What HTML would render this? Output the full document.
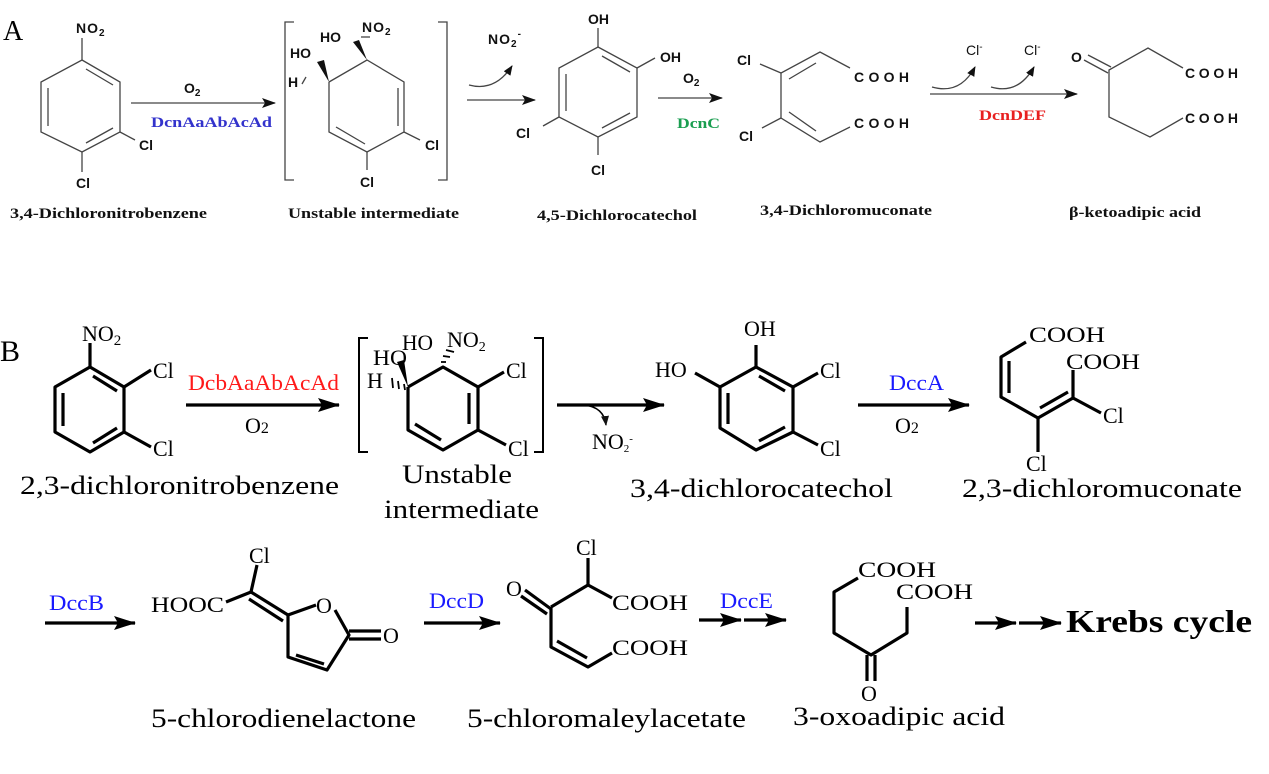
<!DOCTYPE html>
<html><head><meta charset="utf-8"><style>
html,body{margin:0;padding:0;background:#fff;}
svg{display:block;}
.a{font-family:"Liberation Sans",sans-serif;font-weight:bold;font-size:14px;fill:#111;}
.an{font-family:"Liberation Serif",serif;font-weight:bold;font-size:15px;fill:#111;}
.b{font-family:"Liberation Serif",serif;font-size:22px;fill:#000;}
.bn{font-family:"Liberation Serif",serif;font-size:26px;fill:#000;}
.la{stroke:#444;stroke-width:1.3;fill:none;}
.lb{stroke:#000;stroke-width:3.2;fill:none;stroke-linejoin:round;}
.red{fill:#ff1a1a !important;}
.blue{fill:#1a1aff !important;}
</style></head><body>
<svg width="1269" height="774" viewBox="0 0 1269 774" xmlns="http://www.w3.org/2000/svg">
<defs>
<marker id="ha" markerWidth="14" markerHeight="10" refX="13" refY="5" orient="auto" markerUnits="userSpaceOnUse"><path d="M0,0 L14,5 L0,10 L3,5 Z" fill="#111"/></marker>
<marker id="hb" markerWidth="22" markerHeight="14" refX="21" refY="7" orient="auto" markerUnits="userSpaceOnUse"><path d="M0,0 L22,7 L0,14 L4,7 Z" fill="#000"/></marker>
<marker id="hs" markerWidth="10" markerHeight="8" refX="9" refY="4" orient="auto" markerUnits="userSpaceOnUse"><path d="M0,0 L10,4 L0,8 Z" fill="#111"/></marker>
</defs>

<!-- ===== A ===== -->
<text x="3" y="40" font-family="Liberation Serif,serif" font-size="28">A</text>
<polygon class="la" points="82,60 120,82 120,132 82,152 41,132 41,82"/>
<line class="la" x1="48" y1="88" x2="48" y2="126"/>
<line class="la" x1="86" y1="69" x2="113" y2="85"/>
<line class="la" x1="86" y1="143" x2="113" y2="128"/>
<line class="la" x1="82" y1="38" x2="82" y2="60"/>
<line class="la" x1="120" y1="132" x2="135" y2="140"/>
<line class="la" x1="82" y1="152" x2="82" y2="172"/>
<text class="a" x="76" y="33" letter-spacing="1">NO<tspan font-size="10" dy="3">2</tspan></text>
<text class="a" x="139" y="150">Cl</text>
<text class="a" x="76" y="188">Cl</text>
<text class="an" x="10" y="218" textLength="197" lengthAdjust="spacingAndGlyphs">3,4-Dichloronitrobenzene</text>
<line class="la" x1="131" y1="103" x2="275" y2="103" stroke="#111" marker-end="url(#ha)"/>
<text class="a" x="184" y="93">O<tspan font-size="10" dy="3">2</tspan></text>
<text class="an" x="151" y="127" style="fill:#3333cc" textLength="121" lengthAdjust="spacingAndGlyphs">DcnAaAbAcAd</text>
<path class="la" d="M294,22 H285 V180 H294"/>
<path class="la" d="M438,22 H447 V180 H438"/>
<polyline class="la" points="329,82 367,60 404,82 404,132 367,152 329,132 329,82"/>
<line class="la" x1="398" y1="88" x2="398" y2="126"/>
<line class="la" x1="336" y1="127" x2="365" y2="144"/>
<polygon points="329,82 317,62 324,60" fill="#111"/>
<polygon points="367,60 353,42 359,40" fill="#111"/>
<line class="la" x1="302" y1="84" x2="306" y2="77"/>
<line class="la" x1="404" y1="132" x2="420" y2="140"/>
<line class="la" x1="367" y1="152" x2="367" y2="170"/>
<text class="a" x="290" y="58">HO</text>
<text class="a" x="288" y="87">H</text>
<text class="a" x="320" y="42">HO</text>
<text class="a" x="362" y="32" letter-spacing="1">NO<tspan font-size="10" dy="3">2</tspan></text>
<line class="la" x1="361" y1="37" x2="370" y2="37"/>
<text class="a" x="425" y="150">Cl</text>
<text class="a" x="360" y="187">Cl</text>
<text class="an" x="288" y="218" textLength="171" lengthAdjust="spacingAndGlyphs">Unstable intermediate</text>
<line class="la" x1="467" y1="100" x2="535" y2="100" stroke="#111" marker-end="url(#ha)"/>
<path class="la" d="M469,85 Q495,92 512,66" marker-end="url(#hs)"/>
<text class="a" x="488" y="44" letter-spacing="1">NO<tspan font-size="10" dy="3">2</tspan><tspan font-size="10" dy="-10">-</tspan></text>
<polygon class="la" points="598,47 637,68 637,117 598,137 559,117 559,68"/>
<line class="la" x1="566" y1="74" x2="566" y2="111"/>
<line class="la" x1="602" y1="56" x2="630" y2="72"/>
<line class="la" x1="602" y1="128" x2="630" y2="113"/>
<line class="la" x1="598" y1="28" x2="598" y2="47"/>
<line class="la" x1="637" y1="68" x2="655" y2="58"/>
<line class="la" x1="559" y1="117" x2="543" y2="126"/>
<line class="la" x1="598" y1="137" x2="598" y2="155"/>
<text class="a" x="588" y="24">OH</text>
<text class="a" x="660" y="62">OH</text>
<text class="a" x="516" y="138">Cl</text>
<text class="a" x="591" y="175">Cl</text>
<text class="an" x="537" y="220" textLength="160" lengthAdjust="spacingAndGlyphs">4,5-Dichlorocatechol</text>
<line class="la" x1="658" y1="98" x2="722" y2="98" stroke="#111" marker-end="url(#ha)"/>
<text class="a" x="683" y="83">O<tspan font-size="10" dy="3">2</tspan></text>
<text class="an" x="677" y="128" style="fill:#1a9e50" textLength="43" lengthAdjust="spacingAndGlyphs">DcnC</text>
<polyline class="la" points="850,68 820,52 781,73 781,118 820,142 850,127"/>
<line class="la" x1="789" y1="79" x2="816" y2="63"/>
<line class="la" x1="789" y1="112" x2="816" y2="131"/>
<line class="la" x1="760" y1="64" x2="781" y2="73"/>
<line class="la" x1="762" y1="128" x2="781" y2="118"/>
<text class="a" x="737" y="65">Cl</text>
<text class="a" x="739" y="141">Cl</text>
<text class="a" x="854" y="82" textLength="55" lengthAdjust="spacing">COOH</text>
<text class="a" x="854" y="128" textLength="55" lengthAdjust="spacing">COOH</text>
<text class="an" x="760" y="215" textLength="172" lengthAdjust="spacingAndGlyphs">3,4-Dichloromuconate</text>
<line class="la" x1="930" y1="94" x2="1077" y2="94" stroke="#111" marker-end="url(#ha)"/>
<path class="la" d="M932,87 Q960,95 975,67" marker-end="url(#hs)"/>
<path class="la" d="M991,87 Q1018,95 1034,67" marker-end="url(#hs)"/>
<text class="a" x="966" y="55" style="font-weight:normal">Cl<tspan font-size="10" dy="-5">-</tspan></text>
<text class="a" x="1024" y="55" style="font-weight:normal">Cl<tspan font-size="10" dy="-5">-</tspan></text>
<text class="an" x="979" y="120" style="fill:#e82020" textLength="67" lengthAdjust="spacingAndGlyphs">DcnDEF</text>
<line class="la" x1="1084" y1="60" x2="1108" y2="73"/>
<line class="la" x1="1088" y1="55" x2="1111" y2="67"/>
<polyline class="la" points="1183,68 1148,48 1109,70 1109,117 1150,137 1183,118"/>
<text class="a" x="1071" y="62">O</text>
<text class="a" x="1185" y="78" textLength="53" lengthAdjust="spacing">COOH</text>
<text class="a" x="1185" y="123" textLength="53" lengthAdjust="spacing">COOH</text>
<text class="an" x="1069" y="217" textLength="132" lengthAdjust="spacingAndGlyphs">β-ketoadipic acid</text>

<!-- ===== B ===== -->
<text x="0" y="361" font-family="Liberation Serif,serif" font-size="30">B</text>
<polygon class="lb" points="90,367 124,387 124,432 90,452 55,432 55,387"/>
<line class="lb" x1="63" y1="393" x2="63" y2="426"/>
<line class="lb" x1="93" y1="376" x2="117" y2="391"/>
<line class="lb" x1="93" y1="443" x2="117" y2="428"/>
<line class="lb" x1="90" y1="343" x2="90" y2="367"/>
<line class="lb" x1="124" y1="387" x2="151" y2="370"/>
<line class="lb" x1="124" y1="432" x2="151" y2="447"/>
<text class="b" x="82" y="341">NO<tspan font-size="15" dy="4">2</tspan></text>
<text class="b" x="153" y="378">Cl</text>
<text class="b" x="153" y="456">Cl</text>
<text class="bn" x="20" y="494" textLength="319" lengthAdjust="spacingAndGlyphs">2,3-dichloronitrobenzene</text>
<line class="lb" x1="186" y1="405" x2="339" y2="405" marker-end="url(#hb)"/>
<text class="b red" x="188" y="390" textLength="151" lengthAdjust="spacingAndGlyphs">DcbAaAbAcAd</text>
<text class="b" x="245" y="433">O<tspan font-size="16">2</tspan></text>
<path stroke="#000" stroke-width="2" fill="none" d="M368,338 H359 V452 H368"/>
<path stroke="#000" stroke-width="2" fill="none" d="M534,338 H543 V452 H534"/>
<polyline class="lb" points="408,387 443,367 478,387 478,430 443,450 408,430 408,387"/>
<line class="lb" x1="469" y1="393" x2="469" y2="424"/>
<line class="lb" x1="415" y1="424" x2="441" y2="440"/>
<line class="lb" x1="478" y1="387" x2="504" y2="372"/>
<line class="lb" x1="478" y1="430" x2="506" y2="445"/>
<polygon points="408,387 397,362 404,360" fill="#000"/>
<g stroke="#000" stroke-width="1.8"><line x1="404" y1="384" x2="405" y2="390"/><line x1="398" y1="381" x2="399" y2="389"/><line x1="392" y1="378" x2="393" y2="388"/>
<line x1="446" y1="362" x2="441" y2="362"/><line x1="450" y1="357" x2="443" y2="356"/><line x1="454" y1="352" x2="446" y2="350"/></g>
<text class="b" x="373" y="365" font-size="20" textLength="34" lengthAdjust="spacingAndGlyphs">HO</text>
<text class="b" x="367" y="388" font-size="20">H</text>
<text class="b" x="402" y="350" font-size="20" textLength="31" lengthAdjust="spacingAndGlyphs">HO</text>
<text class="b" x="447" y="347" font-size="20">NO<tspan font-size="14" dy="4">2</tspan></text>
<text class="b" x="506" y="378">Cl</text>
<text class="b" x="508" y="456">Cl</text>
<text class="bn" x="402" y="483" textLength="110" lengthAdjust="spacingAndGlyphs">Unstable</text>
<text class="bn" x="384" y="518" textLength="155" lengthAdjust="spacingAndGlyphs">intermediate</text>
<line class="lb" x1="557" y1="405" x2="664" y2="405" marker-end="url(#hb)"/>
<path stroke="#000" stroke-width="1.5" fill="none" d="M584,405 Q604,407 606,425" marker-end="url(#hs)"/>
<text class="b" x="592" y="449" font-size="16">NO<tspan font-size="11" dy="3">2</tspan><tspan font-size="11" dy="-10">-</tspan></text>
<polygon class="lb" points="756,367 793,387 793,432 756,450 720,428 720,387"/>
<line class="lb" x1="728" y1="393" x2="728" y2="424"/>
<line class="lb" x1="759" y1="376" x2="785" y2="391"/>
<line class="lb" x1="759" y1="441" x2="785" y2="427"/>
<line class="lb" x1="756" y1="345" x2="756" y2="367"/>
<line class="lb" x1="720" y1="387" x2="695" y2="373"/>
<line class="lb" x1="793" y1="387" x2="818" y2="373"/>
<line class="lb" x1="793" y1="432" x2="818" y2="445"/>
<text class="b" x="744" y="336">OH</text>
<text class="b" x="655" y="377">HO</text>
<text class="b" x="820" y="378">Cl</text>
<text class="b" x="820" y="456">Cl</text>
<text class="bn" x="630" y="497" textLength="263" lengthAdjust="spacingAndGlyphs">3,4-dichlorocatechol</text>
<line class="lb" x1="858" y1="405" x2="969" y2="405" marker-end="url(#hb)"/>
<text class="b blue" x="889" y="390" textLength="55" lengthAdjust="spacingAndGlyphs">DccA</text>
<text class="b" x="895" y="433">O<tspan font-size="16">2</tspan></text>
<polyline class="lb" points="1026,342 1001,357 1001,397 1038,418 1073,398 1073,370"/>
<line class="lb" x1="1009" y1="361" x2="1009" y2="393"/>
<line class="lb" x1="1040" y1="408" x2="1068" y2="392"/>
<line class="lb" x1="1073" y1="398" x2="1101" y2="413"/>
<line class="lb" x1="1038" y1="418" x2="1038" y2="452"/>
<text class="b" x="1029" y="342" textLength="76" lengthAdjust="spacingAndGlyphs">COOH</text>
<text class="b" x="1066" y="369" textLength="74" lengthAdjust="spacingAndGlyphs">COOH</text>
<text class="b" x="1103" y="423">Cl</text>
<text class="b" x="1026" y="471">Cl</text>
<text class="bn" x="962" y="497" textLength="280" lengthAdjust="spacingAndGlyphs">2,3-dichloromuconate</text>
<line class="lb" x1="45" y1="623" x2="135" y2="623" marker-end="url(#hb)"/>
<text class="b blue" x="49" y="610" textLength="55" lengthAdjust="spacingAndGlyphs">DccB</text>
<line class="lb" x1="226" y1="602" x2="251" y2="592"/>
<line class="lb" x1="251" y1="592" x2="257" y2="565"/>
<line class="lb" x1="251" y1="592" x2="288" y2="615"/>
<line class="lb" x1="249" y1="599" x2="283" y2="621"/>
<polyline class="lb" points="288,615 316,605"/>
<polyline class="lb" points="335,610 349,635 327,670 288,657 288,615"/>
<line class="lb" x1="296" y1="655" x2="324" y2="664"/>
<line class="lb" x1="349" y1="631" x2="381" y2="631"/>
<line class="lb" x1="349" y1="639" x2="381" y2="639"/>
<text class="b" x="151" y="612" textLength="73" lengthAdjust="spacingAndGlyphs">HOOC</text>
<text class="b" x="249" y="563">Cl</text>
<text class="b" x="316" y="613">O</text>
<text class="b" x="383" y="643">O</text>
<text class="bn" x="151" y="727" textLength="265" lengthAdjust="spacingAndGlyphs">5-chlorodienelactone</text>
<line class="lb" x1="424" y1="623" x2="500" y2="623" marker-end="url(#hb)"/>
<text class="b blue" x="429" y="608" textLength="55" lengthAdjust="spacingAndGlyphs">DccD</text>
<line class="lb" x1="525" y1="590" x2="551" y2="609"/>
<line class="lb" x1="521" y1="596" x2="547" y2="614"/>
<polyline class="lb" points="551,607 588,585 612,598"/>
<line class="lb" x1="588" y1="585" x2="588" y2="558"/>
<polyline class="lb" points="551,607 551,647 588,667 612,653"/>
<line class="lb" x1="557" y1="641" x2="587" y2="658"/>
<text class="b" x="506" y="596">O</text>
<text class="b" x="576" y="555">Cl</text>
<text class="b" x="612" y="610" textLength="76" lengthAdjust="spacingAndGlyphs">COOH</text>
<text class="b" x="612" y="655" textLength="76" lengthAdjust="spacingAndGlyphs">COOH</text>
<text class="bn" x="467" y="727" textLength="279" lengthAdjust="spacingAndGlyphs">5-chloromaleylacetate</text>
<line class="lb" x1="699" y1="620" x2="741" y2="620" marker-end="url(#hb)"/>
<line class="lb" x1="744" y1="620" x2="786" y2="620" marker-end="url(#hb)"/>
<text class="b blue" x="720" y="608" textLength="53" lengthAdjust="spacingAndGlyphs">DccE</text>
<polyline class="lb" points="858,578 834,592 834,633 871,655 907,633 907,607"/>
<line class="lb" x1="867" y1="655" x2="867" y2="681"/>
<line class="lb" x1="875" y1="655" x2="875" y2="681"/>
<text class="b" x="858" y="577" textLength="78" lengthAdjust="spacingAndGlyphs">COOH</text>
<text class="b" x="896" y="599" textLength="77" lengthAdjust="spacingAndGlyphs">COOH</text>
<text class="b" x="861" y="701">O</text>
<text class="bn" x="793" y="725" textLength="212" lengthAdjust="spacingAndGlyphs">3-oxoadipic acid</text>
<line class="lb" x1="975" y1="623" x2="1016" y2="623" marker-end="url(#hb)"/>
<line class="lb" x1="1019" y1="623" x2="1061" y2="623" marker-end="url(#hb)"/>
<text x="1066" y="632" font-family="Liberation Serif,serif" font-weight="bold" font-size="32" textLength="186" lengthAdjust="spacingAndGlyphs">Krebs cycle</text>
</svg>
</body></html>
